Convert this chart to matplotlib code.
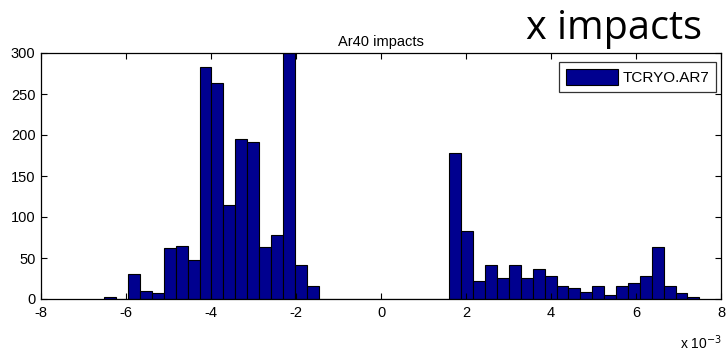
import matplotlib

matplotlib.use("Agg")

import matplotlib.pyplot as plt
import numpy as np

# histogram of x impacts (bin counts), x in metres
bin_start = -6.51e-3
bin_width = 0.28e-3
counts = [
    2, 0, 31, 10, 7, 62, 65, 48, 283, 263,
    115, 195, 191, 64, 78, 300, 42, 16, 0, 0,
    0, 0, 0, 0, 0, 0, 0, 0, 0, 178,
    83, 22, 42, 26, 42, 26, 36, 28, 16, 13,
    8, 16, 5, 16, 19, 28, 63, 16, 7, 2,
]
series_name = "TCRYO.AR7"
x_ticks = [-8, -6, -4, -2, 0, 2, 4, 6, 8]
y_ticks = [0, 50, 100, 150, 200, 250, 300]

plt.rcParams["font.family"] = ["Liberation Sans", "DejaVu Sans"]

edges = bin_start + bin_width * np.arange(len(counts) + 1)

fig = plt.figure(figsize=(7.26, 3.54), dpi=100)
ax = fig.add_axes([41 / 726, 1 - 299 / 354, 680 / 726, 246 / 354])

ax.bar(edges[:-1], counts, width=bin_width, align="edge",
       color="#00008F", edgecolor="black", linewidth=0.8, label=series_name)

ax.set_xlim(-8e-3, 8e-3)
ax.set_ylim(0, 300)
ax.set_xticks([t * 1e-3 for t in x_ticks])
ax.set_xticklabels([str(t) for t in x_ticks])
ax.set_yticks(y_ticks)
ax.tick_params(direction="in", top=True, right=True, length=4, width=0.8,
               labelsize=10.5)
ax.tick_params(axis="x", pad=5)
ax.tick_params(axis="y", pad=4)
for spine in ax.spines.values():
    spine.set_linewidth(0.9)

ax.set_title("Ar40 impacts", fontsize=10.5, pad=5)
fig.text(722 / 726, 1 - 343 / 354, r"x 10$^{-3}$", fontsize=10, ha="right", va="center")
fig.text(614 / 726, 1 - 39 / 354, "x impacts", fontsize=28.5, ha="center", va="baseline",
         family=["Open Sans", "DejaVu Sans"])

leg = ax.legend(loc="upper right", bbox_to_anchor=((716 - 41) / 680, (299 - 62) / 246),
                borderaxespad=0, fontsize=11, frameon=True, fancybox=False,
                handlelength=3.4, handleheight=1.2, handletextpad=0.3,
                borderpad=0.45)
leg.get_frame().set_edgecolor("black")
leg.get_frame().set_linewidth(0.9)

fig.savefig("out.png", dpi=100)
